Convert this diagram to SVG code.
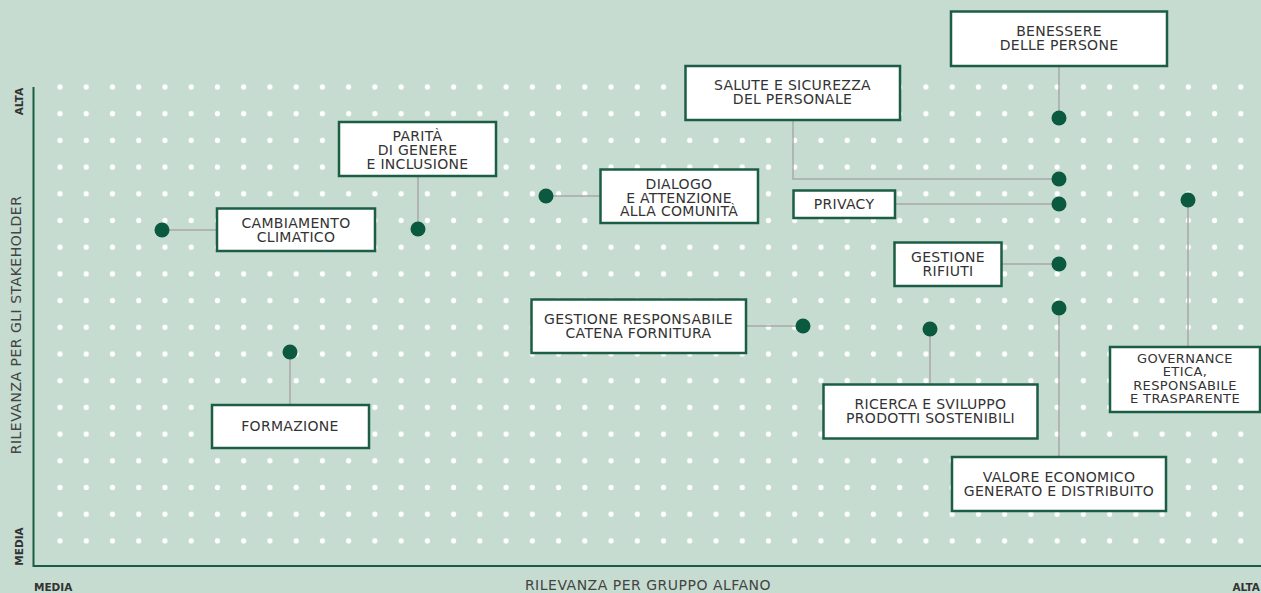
<svg xmlns="http://www.w3.org/2000/svg" width="1261" height="593" viewBox="0 0 1261 593">
<defs>
<pattern id="dots" patternUnits="userSpaceOnUse" x="46.88" y="73.65" width="26.24" height="26.7">
<circle cx="13.12" cy="13.35" r="2.6" fill="#ffffff"/>
</pattern>
</defs>
<style>
.box{fill:#ffffff;stroke:#1b5e45;stroke-width:2.5}
.lbl{font-family:"DejaVu Sans",sans-serif;font-size:14px;letter-spacing:0.3px;fill:#333333;text-anchor:middle}
.sm{font-size:13px;letter-spacing:0.4px}
.dot{fill:#0b5a40}
.con{fill:none;stroke:#a9a9a9;stroke-width:1.5}
.axis{stroke:#1a5c45;stroke-width:2;fill:none}
.ax{font-family:"DejaVu Sans",sans-serif;font-size:14px;letter-spacing:0.5px;fill:#444444;text-anchor:middle}
.axb{font-family:"DejaVu Sans",sans-serif;font-size:10.5px;font-weight:bold;fill:#333333}
</style>
<rect width="1261" height="593" fill="#c6dcd0"/>
<rect x="46.88" y="73.65" width="1208" height="481" fill="url(#dots)"/>
<g id="axes">
<path class="axis" d="M33.5,87 V566 H1261"/>
<text class="axb" transform="translate(22.5,101.5) rotate(-90)" text-anchor="middle">ALTA</text>
<text class="axb" transform="translate(22.5,546.5) rotate(-90)" text-anchor="middle">MEDIA</text>
<text class="ax" transform="translate(20.5,325) rotate(-90)">RILEVANZA PER GLI STAKEHOLDER</text>
<text class="ax" x="648" y="590">RILEVANZA PER GRUPPO ALFANO</text>
<text class="axb" x="34" y="591">MEDIA</text>
<text class="axb" x="1260" y="591" text-anchor="end">ALTA</text>
</g>
<g id="connectors">
<path class="con" d="M1059,66 V118"/>
<path class="con" d="M793,120 V179 H1059"/>
<path class="con" d="M895,204 H1059"/>
<path class="con" d="M1002,264 H1059"/>
<path class="con" d="M1059,308 V457"/>
<path class="con" d="M1188,200 V347"/>
<path class="con" d="M418,176 V229"/>
<path class="con" d="M162,230 H217"/>
<path class="con" d="M546,196 H600"/>
<path class="con" d="M746,326 H803"/>
<path class="con" d="M930,329 V384"/>
<path class="con" d="M290,352 V405"/>
</g>
<g id="benessere">
<rect class="box" x="951" y="11.5" width="216" height="54.5"/>
<text class="lbl" x="1059" y="36">BENESSERE</text>
<text class="lbl" x="1059" y="50">DELLE PERSONE</text>
<circle class="dot" cx="1059" cy="118" r="7.5"/>
</g>
<g id="salute">
<rect class="box" x="685.5" y="66" width="214.5" height="54"/>
<text class="lbl" x="792.5" y="90">SALUTE E SICUREZZA</text>
<text class="lbl" x="792.5" y="104">DEL PERSONALE</text>
<circle class="dot" cx="1059" cy="179" r="7.5"/>
</g>
<g id="privacy">
<rect class="box" x="793.5" y="190.5" width="101.5" height="27.5"/>
<text class="lbl" x="844" y="209">PRIVACY</text>
<circle class="dot" cx="1059" cy="204" r="7.5"/>
</g>
<g id="rifiuti">
<rect class="box" x="894.5" y="242.5" width="107" height="43.5"/>
<text class="lbl" x="948" y="262">GESTIONE</text>
<text class="lbl" x="948" y="276">RIFIUTI</text>
<circle class="dot" cx="1059" cy="264" r="7.5"/>
</g>
<g id="valore">
<rect class="box" x="952" y="457" width="214" height="54"/>
<text class="lbl" x="1059" y="481.5">VALORE ECONOMICO</text>
<text class="lbl" x="1059" y="495.5">GENERATO E DISTRIBUITO</text>
<circle class="dot" cx="1059" cy="308" r="7.5"/>
</g>
<g id="governance">
<rect class="box" x="1110" y="347" width="150" height="65"/>
<text class="lbl sm" x="1185" y="363">GOVERNANCE</text>
<text class="lbl sm" x="1185" y="376">ETICA,</text>
<text class="lbl sm" x="1185" y="389.5">RESPONSABILE</text>
<text class="lbl sm" x="1185" y="402.5">E TRASPARENTE</text>
<circle class="dot" cx="1188" cy="200" r="7.5"/>
</g>
<g id="parita">
<rect class="box" x="339" y="122" width="157" height="54"/>
<text class="lbl" x="417.5" y="141">PARITÀ</text>
<text class="lbl" x="417.5" y="155">DI GENERE</text>
<text class="lbl" x="417.5" y="169">E INCLUSIONE</text>
<circle class="dot" cx="418" cy="229" r="7.5"/>
</g>
<g id="cambiamento">
<rect class="box" x="217" y="208.5" width="158" height="42.5"/>
<text class="lbl" x="296" y="228">CAMBIAMENTO</text>
<text class="lbl" x="296" y="242">CLIMATICO</text>
<circle class="dot" cx="162" cy="230" r="7.5"/>
</g>
<g id="dialogo">
<rect class="box" x="600.5" y="169.5" width="157.5" height="53.5"/>
<text class="lbl" x="679" y="188.5">DIALOGO</text>
<text class="lbl" x="679" y="202.5">E ATTENZIONE</text>
<text class="lbl" x="679" y="216">ALLA COMUNITÀ</text>
<circle class="dot" cx="546" cy="196" r="7.5"/>
</g>
<g id="fornitura">
<rect class="box" x="531.5" y="299.5" width="214.5" height="53.5"/>
<text class="lbl" x="638.5" y="324">GESTIONE RESPONSABILE</text>
<text class="lbl" x="638.5" y="338">CATENA FORNITURA</text>
<circle class="dot" cx="803" cy="326" r="7.5"/>
</g>
<g id="ricerca">
<rect class="box" x="823.5" y="384.5" width="214" height="54"/>
<text class="lbl" x="930.5" y="409">RICERCA E SVILUPPO</text>
<text class="lbl" x="930.5" y="422.5">PRODOTTI SOSTENIBILI</text>
<circle class="dot" cx="930" cy="329" r="7.5"/>
</g>
<g id="formazione">
<rect class="box" x="212" y="405" width="157" height="43"/>
<text class="lbl" x="290" y="431">FORMAZIONE</text>
<circle class="dot" cx="290" cy="352" r="7.5"/>
</g>
</svg>
